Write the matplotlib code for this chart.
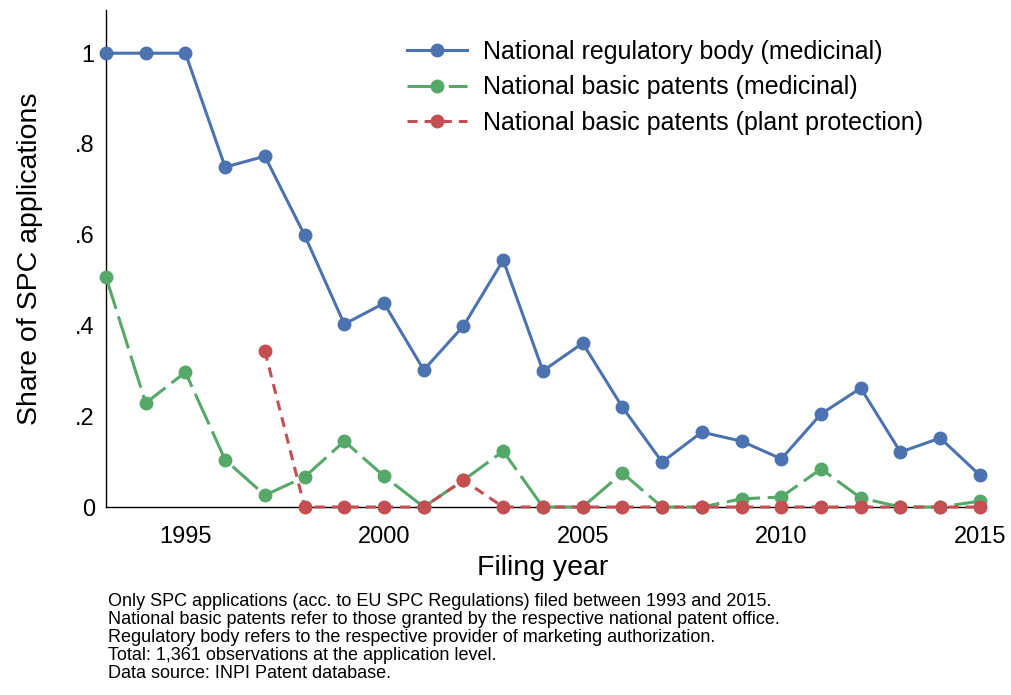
import numpy as np
import matplotlib.pyplot as plt

plt.rcParams['font.family'] = ['Liberation Sans', 'DejaVu Sans']

years = np.arange(1993, 2016)
# share of SPC applications
regulatory = [1.0, 1.0, 1.0, 0.749, 0.773, 0.599, 0.403, 0.449, 0.302, 0.399, 0.544,
              0.300, 0.361, 0.220, 0.099, 0.165, 0.145, 0.106, 0.205, 0.262, 0.121,
              0.152, 0.070]
basic_med = [0.507, 0.229, 0.297, 0.104, 0.026, 0.066, 0.145, 0.068, 0.0, 0.059, 0.123,
             0.0, 0.0, 0.075, 0.0, 0.0, 0.018, 0.022, 0.084, 0.020, 0.0, 0.0, 0.013]
plant_years = np.arange(1997, 2016)
basic_plant = [0.344, 0.0, 0.0, 0.0, 0.0, 0.059, 0.0, 0.0, 0.0, 0.0, 0.0, 0.0, 0.0,
               0.0, 0.0, 0.0, 0.0, 0.0, 0.0]

labels = ['National regulatory body (medicinal)',
          'National basic patents (medicinal)',
          'National basic patents (plant protection)']
notes = ("Only SPC applications (acc. to EU SPC Regulations) filed between 1993 and 2015.\n"
         "National basic patents refer to those granted by the respective national patent office.\n"
         "Regulatory body refers to the respective provider of marketing authorization.\n"
         "Total: 1,361 observations at the application level.\n"
         "Data source: INPI Patent database.")

fig = plt.figure(figsize=(10.12, 6.95), dpi=100)
ax = fig.add_axes([0.1047, 0.2705, 0.8636, 0.715])

ax.plot(years, regulatory, color='#4C72B0', lw=2.2, marker='o', ms=9,
        label=labels[0], clip_on=False, zorder=3)
ax.plot(years, basic_med, color='#55A868', lw=2.2, marker='o', ms=9,
        dashes=(11, 2.5), label=labels[1], clip_on=False, zorder=4)
ax.plot(plant_years, basic_plant, color='#C44E52', lw=2.2, marker='o', ms=9,
        dashes=(3.3, 2.3), label=labels[2], clip_on=False, zorder=5)

ax.set_xlim(1993, 2015)
ax.set_ylim(0, 1.095)
ax.set_xticks([1995, 2000, 2005, 2010, 2015])
ax.set_yticks([0, 0.2, 0.4, 0.6, 0.8, 1.0])
ax.set_yticklabels(['0', '.2', '.4', '.6', '.8', '1'])
ax.tick_params(length=0, labelsize=17)
ax.tick_params(axis='x', pad=14)
ax.tick_params(axis='y', pad=8)
ax.spines['top'].set_visible(False)
ax.spines['right'].set_visible(False)
ax.spines['left'].set_linewidth(1.0)
ax.spines['bottom'].set_linewidth(1.0)

ax.set_xlabel('Filing year', fontsize=20.5, labelpad=5)
ax.set_ylabel('Share of SPC applications', fontsize=20.5, labelpad=23)

ax.legend(loc='upper left', bbox_to_anchor=(0.319, 0.986), frameon=False,
          fontsize=18, handlelength=2.4, handletextpad=0.64, labelspacing=0.47)

fig.text(0.107, 0.1468, notes, fontsize=13, va='top', ha='left', linespacing=1.08)

fig.savefig('out.png', dpi=100)
